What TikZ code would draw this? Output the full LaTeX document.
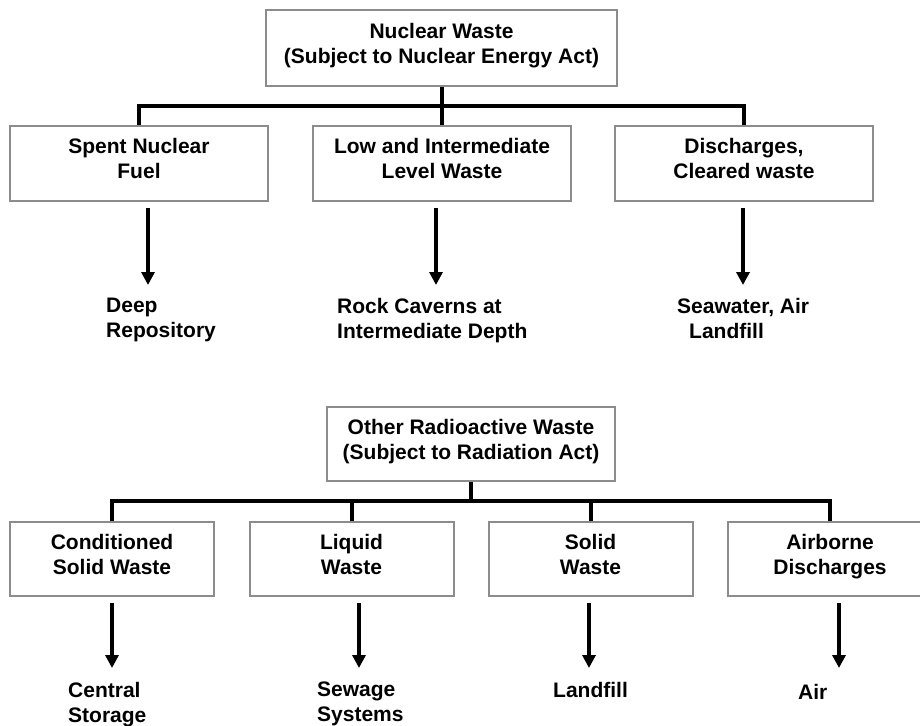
\documentclass[tikz,border=0pt]{standalone}
\usepackage{fontspec}
\setmainfont{Liberation Sans}
\usepackage{xcolor}
\usepackage{tikz}
\usetikzlibrary{arrows.meta,positioning,calc}

\definecolor{boxgray}{RGB}{140,140,140}

\begin{document}
\begin{tikzpicture}[x=1pt,y=-1pt,
  box/.style={rectangle,draw=boxgray,line width=2pt,align=center,inner sep=0pt,
    minimum height=75pt,text depth=10pt,font=\fontsize{21}{25}\selectfont\bfseries},
  dest/.style={anchor=north west,align=left,inner sep=0pt,font=\fontsize{21}{25}\selectfont\bfseries},
  bus/.style={line width=4pt},
  flow/.style={line width=4pt,-{Triangle[width=13pt,length=13pt]}}]
  \clip (0,0) rectangle (920,725);

  % nuclear waste
  \node[box,minimum width=351pt,minimum height=76pt] (nw) at (441.5,48) {Nuclear Waste\\(Subject to Nuclear Energy Act)};
  \node[box,minimum width=258pt] (spent) at (139,163.5) {Spent Nuclear\\Fuel};
  \node[box,minimum width=258pt] (llw) at (442,163.5) {Low and Intermediate\\Level Waste};
  \node[box,minimum width=258pt] (disch) at (744,163.5) {Discharges,\\Cleared waste};

  \node[dest] (deep) at (106,298) {Deep\\Repository};
  \node[dest] (caverns) at (337,298) {Rock Caverns at\\Intermediate Depth};
  \node[dest] (sea) at (677,298) {Seawater, Air\\\hspace*{12pt}Landfill};

  \coordinate (nwjoin) at (441.5,106);
  \draw[bus] (spent.north) |- (nwjoin) -| (disch.north);
  \draw[bus] (nw.south) -- (nwjoin);
  \draw[bus] (llw.north) -- (llw.north |- nwjoin);

  \draw[flow] ($(spent.south)+(9,6)$) -- ($(spent.south |- deep.north)+(9,-13)$);
  \draw[flow] ($(llw.south)+(-6,6)$) -- ($(llw.south |- caverns.north)+(-6,-13)$);
  \draw[flow] ($(disch.south)+(-1,6)$) -- ($(disch.south |- sea.north)+(-1,-13)$);

  % other radioactive waste
  \node[box,minimum width=288pt,minimum height=74pt] (orw) at (471,444) {Other Radioactive Waste\\(Subject to Radiation Act)};
  \node[box,minimum width=204pt,minimum height=74pt] (cond) at (112,559) {Conditioned\\Solid Waste};
  \node[box,minimum width=204pt,minimum height=74pt] (liquid) at (351.5,559) {Liquid\\Waste};
  \node[box,minimum width=204pt,minimum height=74pt] (solid) at (590.5,559) {Solid\\Waste};
  \node[box,minimum width=204pt,minimum height=74pt] (airb) at (830,559) {Airborne\\Discharges};

  \node[dest] (central) at (68,682) {Central\\Storage};
  \node[dest] (sewage) at (317,682) {Sewage\\Systems};
  \node[dest] (landfill) at (553,682) {Landfill};
  \node[dest] (air) at (798,684) {Air};

  \coordinate (orjoin) at (471,501);
  \draw[bus] (cond.north) |- (orjoin) -| (airb.north);
  \draw[bus] (orw.south) -- (orjoin);
  \draw[bus] (liquid.north) -- (liquid.north |- orjoin);
  \draw[bus] (solid.north) -- (solid.north |- orjoin);

  \draw[flow] ($(cond.south)+(0,6)$) -- ($(cond.south |- central.north)+(0,-14)$);
  \draw[flow] ($(liquid.south)+(7.5,6)$) -- ($(liquid.south |- sewage.north)+(7.5,-14)$);
  \draw[flow] ($(solid.south)+(-1.5,6)$) -- ($(solid.south |- landfill.north)+(-1.5,-14)$);
  \draw[flow] ($(airb.south)+(9,6)$) -- ($(airb.south |- air.north)+(9,-16)$);
\end{tikzpicture}
\end{document}
